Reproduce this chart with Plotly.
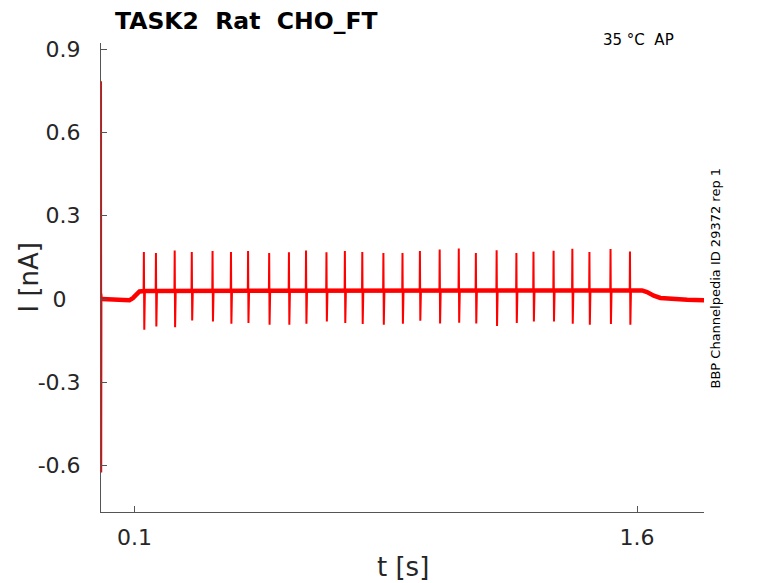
import plotly.graph_objects as go

# tempo dos picos [s], pico e vale [nA]
spike_t = [0.128, 0.164, 0.220, 0.271, 0.333, 0.388, 0.439, 0.502, 0.561,
           0.612, 0.673, 0.728, 0.780, 0.843, 0.900, 0.952, 1.011, 1.068,
           1.119, 1.181, 1.240, 1.291, 1.351, 1.407, 1.458, 1.521, 1.579]
spike_peak = [0.169, 0.166, 0.175, 0.169, 0.173, 0.169, 0.173, 0.166, 0.168,
              0.175, 0.168, 0.173, 0.169, 0.166, 0.166, 0.173, 0.178, 0.182,
              0.166, 0.176, 0.166, 0.170, 0.174, 0.181, 0.169, 0.180, 0.171]
spike_trough = [-0.111, -0.099, -0.102, -0.077, -0.081, -0.089, -0.086, -0.093,
                -0.093, -0.089, -0.081, -0.086, -0.090, -0.093, -0.089, -0.078,
                -0.088, -0.085, -0.088, -0.097, -0.086, -0.081, -0.081, -0.089,
                -0.093, -0.090, -0.093]
plateau = 0.029

# linha de base (corrente de repouso / degrau de estimulo)
base_t = [0.003, 0.05, 0.085, 0.095, 0.105, 0.115, 0.13, 0.4, 0.8, 1.2,
          1.55, 1.615, 1.63, 1.65, 1.67, 1.7, 1.75, 1.8]
base_i = [0.0, 0.0, -0.004, 0.003, 0.018, 0.027, 0.029, 0.029, 0.029, 0.028,
          0.031, 0.031, 0.025, 0.012, 0.004, 0.0, -0.003, -0.004]

# transiente capacitivo no inicio
trans_t = [0.0, 0.0008, 0.0014, 0.002, 0.003]
trans_i = [0.0, 0.784, -0.625, 0.02, 0.0]

x_ticks = [0.1, 1.6]
y_ticks = [-0.6, -0.3, 0, 0.3, 0.6, 0.9]
y_tick_text = ['-0.6', '-0.3', '0\u2007', '0.3', '0.6', '0.9']

RED = '#ff0000'
AXC = '#555555'
FONT = 'DejaVu Sans'

# a pagina tem margem de 8px no body, entao a figura fica 8px menor
W, H = 770, 575

# monta os picos como segmentos separados
sx, sy = [], []
for t, p, v in zip(spike_t, spike_peak, spike_trough):
    sx += [t - 0.0008, t, t + 0.0012, t + 0.003, None]
    sy += [plateau, p, v, plateau, None]

fig = go.Figure()
fig.add_trace(go.Scatter(x=base_t, y=base_i, mode='lines',
                         line=dict(color=RED, width=4.5), hoverinfo='skip'))
fig.add_trace(go.Scatter(x=sx, y=sy, mode='lines',
                         line=dict(color=RED, width=2), hoverinfo='skip'))
fig.add_trace(go.Scatter(x=trans_t, y=trans_i, mode='lines',
                         line=dict(color=RED, width=1.5), hoverinfo='skip'))

fig.update_layout(
    width=W, height=H,
    margin=dict(l=93, r=74, t=35, b=71),
    plot_bgcolor='white', paper_bgcolor='white',
    showlegend=False,
    font=dict(family=FONT, color='#262626'),
    title=dict(text='TASK2\u00a0\u00a0Rat\u00a0\u00a0CHO_FT',
               font=dict(family=FONT, size=23.5, color='black', weight='bold'),
               xref='container', x=107 / W, xanchor='left',
               yref='container', y=1 - 12.5 / H, yanchor='middle'),
)

fig.update_xaxes(range=[0, 1.8], showgrid=False, zeroline=False,
                 showline=True, linecolor=AXC, linewidth=1,
                 ticks='inside', ticklen=6, tickcolor=AXC,
                 tickvals=x_ticks, ticktext=['0.1', '1.6'],
                 tickfont=dict(size=22, color='#262626'),
                 ticklabelstandoff=6)
fig.update_yaxes(range=[-0.767, 0.922], showgrid=False, zeroline=False,
                 showline=True, linecolor=AXC, linewidth=1,
                 ticks='inside', ticklen=6, tickcolor=AXC,
                 tickvals=y_ticks, ticktext=y_tick_text,
                 tickfont=dict(size=22, color='#262626'),
                 ticklabelstandoff=15)

# rotulos dos eixos e textos laterais
fig.add_annotation(text='t [s]', xref='paper', yref='paper', x=0.5, y=-0.1166,
                   xanchor='center', yanchor='middle', showarrow=False,
                   font=dict(size=26, color='#262626'))
fig.add_annotation(text='I [nA]', xref='paper', yref='paper', x=-0.121, y=0.5,
                   xanchor='center', yanchor='middle', textangle=-90,
                   showarrow=False, font=dict(size=26, color='#262626'))
fig.add_annotation(text='35 °C\u00a0\u00a0AP', xref='paper', yref='paper',
                   x=(676 - 101) / 603, y=1.007, xanchor='right',
                   yanchor='middle', showarrow=False,
                   font=dict(size=15, color='black'))
fig.add_annotation(text='BBP Channelpedia ID 29372 rep 1', xref='paper',
                   yref='paper', x=1.0199, y=0.5, xanchor='center',
                   yanchor='middle', textangle=-90, showarrow=False,
                   font=dict(size=13, color='black'))

fig.write_html('out.html')
